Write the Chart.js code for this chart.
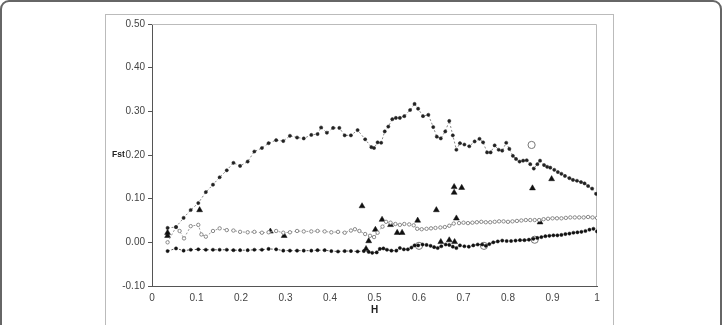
<!DOCTYPE html>
<html>
<head>
<meta charset="utf-8">
<script src="https://cdn.jsdelivr.net/npm/chart.js@4"></script>
<style>
  body { margin: 0; overflow: hidden; background: #fff; }
  #outer { position: absolute; left: 0; top: 0; width: 718px; height: 340px; border: 2px solid #666; border-radius: 9px; }
  #inner { position: absolute; left: 105px; top: 14px; width: 507px; height: 340px; border: 1px solid #bbb; }
  #wrap { position: absolute; left: 0; top: 0; width: 722px; height: 325px; }
</style>
</head>
<body>
<div id="outer"></div>
<div id="inner"></div>
<div id="wrap"><canvas id="fstChart" width="722" height="325"></canvas></div>
<script>
// upper curve (filled markers)
const upperH = [0.035, 0.054, 0.071, 0.087, 0.104, 0.121, 0.137, 0.152, 0.168, 0.183, 0.198,
  0.215, 0.230, 0.247, 0.262, 0.279, 0.295, 0.310, 0.326, 0.341, 0.358,
  0.372, 0.380, 0.393, 0.407, 0.421, 0.433, 0.447, 0.462, 0.479, 0.493,
  0.499, 0.507, 0.515, 0.523, 0.531, 0.540, 0.548, 0.557, 0.567, 0.580,
  0.590, 0.598, 0.609, 0.621, 0.632, 0.640, 0.649, 0.659, 0.668, 0.676,
  0.684, 0.692, 0.702, 0.713, 0.725, 0.736, 0.744, 0.753, 0.761, 0.770,
  0.779, 0.787, 0.796, 0.803, 0.811, 0.818, 0.826, 0.834, 0.842, 0.850,
  0.858, 0.866, 0.872, 0.881, 0.888, 0.895, 0.904, 0.912, 0.920, 0.928,
  0.938, 0.946, 0.955, 0.964, 0.972, 0.980, 0.989, 0.998];
const upperFst = [0.033, 0.035, 0.056, 0.074, 0.090, 0.115, 0.132, 0.149, 0.165, 0.182, 0.175,
  0.185, 0.208, 0.216, 0.227, 0.234, 0.232, 0.244, 0.240, 0.238, 0.246,
  0.248, 0.263, 0.251, 0.262, 0.262, 0.245, 0.245, 0.257, 0.236, 0.218,
  0.216, 0.229, 0.228, 0.254, 0.265, 0.282, 0.285, 0.285, 0.289, 0.303,
  0.317, 0.306, 0.289, 0.292, 0.264, 0.242, 0.238, 0.254, 0.278, 0.245,
  0.212, 0.227, 0.224, 0.220, 0.231, 0.237, 0.229, 0.206, 0.206, 0.222,
  0.212, 0.210, 0.228, 0.214, 0.198, 0.191, 0.185, 0.187, 0.188, 0.179,
  0.169, 0.179, 0.187, 0.177, 0.173, 0.171, 0.166, 0.161, 0.157, 0.152,
  0.147, 0.143, 0.141, 0.138, 0.135, 0.129, 0.123, 0.111];

// middle curve (open grey markers)
const middleH = [0.035, 0.054, 0.062, 0.072, 0.087, 0.104, 0.111, 0.121, 0.137, 0.152,
  0.168, 0.183, 0.198, 0.215, 0.230, 0.247, 0.262, 0.279, 0.295, 0.310,
  0.326, 0.341, 0.358, 0.372, 0.388, 0.403, 0.418, 0.433, 0.447, 0.456,
  0.466, 0.479, 0.490, 0.499, 0.507, 0.518, 0.526, 0.536, 0.547, 0.557,
  0.567, 0.578, 0.588, 0.596, 0.606, 0.617, 0.627, 0.637, 0.648, 0.658,
  0.668, 0.678, 0.690, 0.700, 0.710, 0.720, 0.730, 0.740, 0.750, 0.760,
  0.770, 0.780, 0.790, 0.800, 0.810, 0.820, 0.830, 0.840, 0.850, 0.860,
  0.870, 0.880, 0.890, 0.900, 0.910, 0.920, 0.930, 0.940, 0.950, 0.960,
  0.970, 0.980, 0.990, 1.000];
const middleFst = [0.000, 0.035, 0.026, 0.009, 0.037, 0.040, 0.018, 0.013, 0.026, 0.032,
  0.028, 0.027, 0.024, 0.023, 0.024, 0.022, 0.023, 0.026, 0.022, 0.023,
  0.026, 0.025, 0.025, 0.026, 0.025, 0.023, 0.024, 0.022, 0.027, 0.030,
  0.026, 0.019, 0.015, 0.012, 0.022, 0.036, 0.047, 0.045, 0.042, 0.040,
  0.042, 0.041, 0.039, 0.031, 0.030, 0.031, 0.032, 0.033, 0.034, 0.035,
  0.038, 0.043, 0.044, 0.045, 0.044, 0.045, 0.046, 0.047, 0.046, 0.046,
  0.047, 0.048, 0.048, 0.047, 0.048, 0.049, 0.050, 0.051, 0.051, 0.051,
  0.051, 0.053, 0.054, 0.055, 0.055, 0.055, 0.056, 0.057, 0.057, 0.057,
  0.057, 0.058, 0.057, 0.056];

// lower curve (small black markers)
const lowerH = [0.035, 0.054, 0.071, 0.087, 0.104, 0.121, 0.137, 0.152, 0.168, 0.183, 0.198,
  0.215, 0.230, 0.247, 0.262, 0.279, 0.295, 0.310, 0.326, 0.341, 0.358,
  0.372, 0.388, 0.403, 0.418, 0.433, 0.447, 0.462, 0.476, 0.487, 0.495,
  0.505, 0.512, 0.520, 0.528, 0.538, 0.549, 0.557, 0.566, 0.575, 0.583,
  0.590, 0.598, 0.608, 0.617, 0.626, 0.634, 0.642, 0.650, 0.660, 0.668,
  0.676, 0.684, 0.692, 0.702, 0.712, 0.722, 0.732, 0.742, 0.750, 0.758,
  0.767, 0.777, 0.787, 0.797, 0.807, 0.817, 0.827, 0.837, 0.847, 0.857,
  0.866, 0.875, 0.884, 0.893, 0.902, 0.911, 0.920, 0.929, 0.938, 0.947,
  0.956, 0.965, 0.974, 0.983, 0.992, 1.000];
const lowerFst = [-0.020, -0.014, -0.019, -0.017, -0.016, -0.017, -0.017, -0.017, -0.017, -0.018,
  -0.018, -0.018, -0.017, -0.017, -0.015, -0.016, -0.019, -0.019, -0.019, -0.019,
  -0.019, -0.018, -0.018, -0.020, -0.021, -0.020, -0.020, -0.021, -0.020, -0.022,
  -0.024, -0.023, -0.015, -0.014, -0.017, -0.019, -0.019, -0.013, -0.016, -0.016,
  -0.012, -0.007, -0.007, -0.005, -0.006, -0.008, -0.011, -0.013, -0.009, -0.005,
  -0.006, -0.010, -0.013, -0.007, -0.009, -0.010, -0.007, -0.005, -0.005, -0.008,
  -0.004, 0.000, 0.002, 0.004, 0.003, 0.003, 0.004, 0.005, 0.005, 0.006,
  0.008, 0.010, 0.012, 0.014, 0.015, 0.016, 0.016, 0.017, 0.019, 0.020,
  0.022, 0.023, 0.024, 0.026, 0.029, 0.031, 0.025];

// triangles
const triH = [0.035, 0.035, 0.107, 0.266, 0.297, 0.472, 0.481, 0.487, 0.502, 0.517, 0.536, 0.551, 0.562,
  0.597, 0.639, 0.649, 0.668, 0.679, 0.679, 0.680, 0.684, 0.696, 0.855, 0.872, 0.898];
const triFst = [0.022, 0.015, 0.074, 0.025, 0.015, 0.083, -0.015, 0.003, 0.029, 0.052, 0.040, 0.022, 0.022,
  0.050, 0.074, 0.001, 0.005, 0.127, 0.114, 0.001, 0.055, 0.125, 0.124, 0.046, 0.145];

// open circles
const circH = [0.600, 0.746, 0.853, 0.860];
const circFst = [-0.008, -0.008, 0.223, 0.006];

const xTicks = [0, 0.1, 0.2, 0.3, 0.4, 0.5, 0.6, 0.7, 0.8, 0.9, 1];

function pts(xs, ys) {
  return xs.map((x, i) => ({ x: x, y: ys[i] }));
}

// grey frame on top and right of the plot, plus the "Fst" label
const framePlugin = {
  id: 'frame',
  beforeDatasetsDraw(chart) {
    const a = chart.chartArea, c = chart.ctx;
    c.save();
    c.strokeStyle = '#bbb';
    c.lineWidth = 1;
    c.beginPath();
    c.moveTo(a.left, a.top + 0.5);
    c.lineTo(a.right - 0.5, a.top + 0.5);
    c.lineTo(a.right - 0.5, a.bottom);
    c.stroke();
    c.restore();
  },
  afterDraw(chart) {
    const c = chart.ctx;
    c.save();
    c.font = 'bold 8.5px "Liberation Sans", Arial, sans-serif';
    c.fillStyle = '#222';
    c.textAlign = 'left';
    c.textBaseline = 'middle';
    c.fillText('Fst', 112, chart.scales.y.getPixelForValue(0.2));
    c.restore();
  }
};

const ctx = document.getElementById('fstChart').getContext('2d');
const chart = new Chart(ctx, {
  type: 'scatter',
  data: {
    datasets: [
      {
        label: 'upper',
        data: pts(upperH, upperFst),
        showLine: true,
        borderColor: '#888',
        borderWidth: 1,
        borderDash: [2, 2],
        pointStyle: 'circle',
        pointRadius: 1.6,
        pointBackgroundColor: '#222',
        pointBorderColor: '#222',
        pointBorderWidth: 0.5
      },
      {
        label: 'middle',
        data: pts(middleH, middleFst),
        showLine: true,
        borderColor: '#999',
        borderWidth: 1,
        borderDash: [2, 2],
        pointStyle: 'circle',
        pointRadius: 1.7,
        pointBackgroundColor: '#fff',
        pointBorderColor: '#888',
        pointBorderWidth: 1
      },
      {
        label: 'lower',
        data: pts(lowerH, lowerFst),
        showLine: true,
        borderColor: '#555',
        borderWidth: 1,
        borderDash: [2, 2],
        pointStyle: 'circle',
        pointRadius: 1.6,
        pointBackgroundColor: '#111',
        pointBorderColor: '#111',
        pointBorderWidth: 0.5
      },
      {
        label: 'circles',
        data: pts(circH, circFst),
        showLine: false,
        pointStyle: 'circle',
        pointRadius: 3.6,
        pointBackgroundColor: 'rgba(255,255,255,0)',
        pointBorderColor: '#777',
        pointBorderWidth: 1
      },
      {
        label: 'triangles',
        data: pts(triH, triFst),
        showLine: false,
        pointStyle: 'triangle',
        pointRadius: 3.4,
        pointBackgroundColor: '#111',
        pointBorderColor: '#111',
        pointBorderWidth: 0.5
      }
    ]
  },
  options: {
    responsive: false,
    animation: false,
    layout: { padding: { left: 110, right: 125, top: 24, bottom: 0 } },
    plugins: {
      legend: { display: false },
      tooltip: { enabled: false }
    },
    scales: {
      x: {
        type: 'linear',
        min: 0,
        max: 1,
        afterFit(scale) { scale.height = 39; },
        afterBuildTicks(scale) { scale.ticks = xTicks.map(v => ({ value: v })); },
        border: { display: true, color: '#555', width: 1 },
        grid: { drawOnChartArea: false, drawTicks: false },
        ticks: {
          padding: 6,
          color: '#444',
          font: { family: '"Liberation Sans", Arial, sans-serif', size: 10 },
          callback: v => String(Math.round(v * 10) / 10)
        },
        title: {
          display: true,
          text: 'H',
          color: '#222',
          font: { family: '"Liberation Sans", Arial, sans-serif', size: 10, weight: 'bold' },
          padding: { top: 0, bottom: 9 }
        }
      },
      y: {
        min: -0.1,
        max: 0.5,
        afterFit(scale) { scale.width = 42; },
        border: { display: true, color: '#555', width: 1 },
        grid: { drawOnChartArea: false, drawTicks: true, tickLength: 4, color: '#555' },
        ticks: {
          stepSize: 0.1,
          padding: 3,
          color: '#444',
          font: { family: '"Liberation Sans", Arial, sans-serif', size: 10 },
          callback: v => (Math.abs(v) < 1e-9 ? 0 : v).toFixed(2)
        }
      }
    }
  },
  plugins: [framePlugin]
});
</script>
</body>
</html>
